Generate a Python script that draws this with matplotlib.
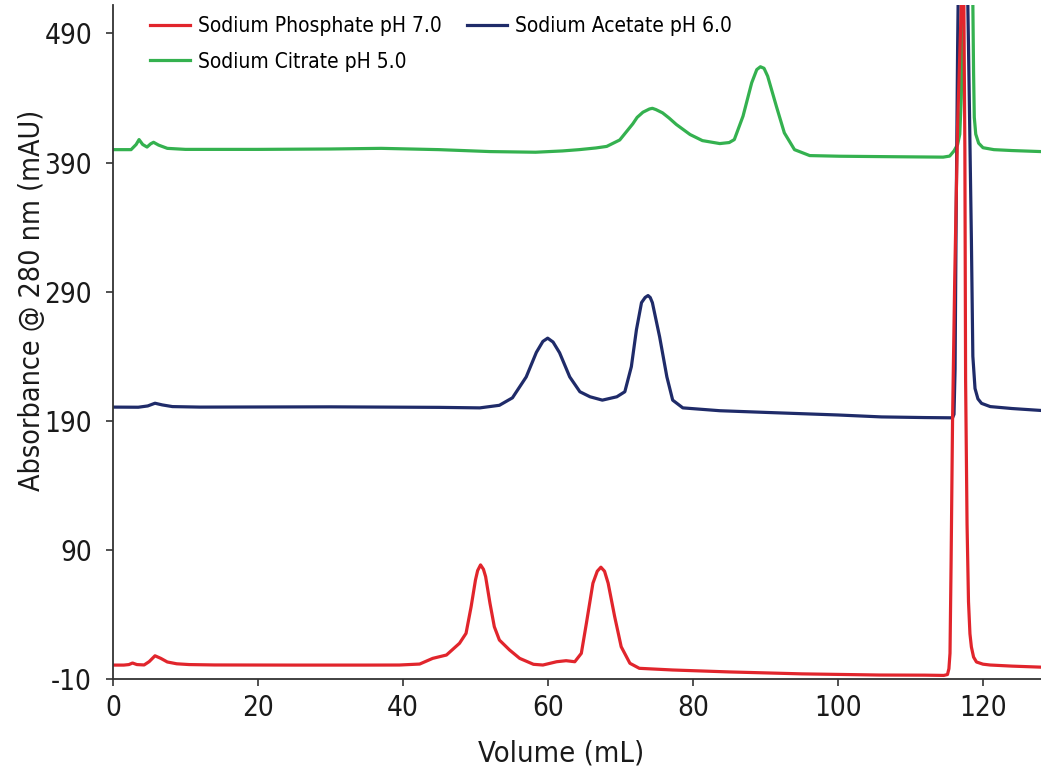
import matplotlib.pyplot as plt

# -------------------------------
# Chromatogram data
# -------------------------------
phosphate_x = [0, 1.5, 2.2, 2.7, 3.3, 4.3, 5.0, 5.8, 6.6, 7.5, 8.8, 10.5, 14, 25, 35,
               39.5, 42.3, 44.1, 46.0, 47.8, 48.7, 49.4, 50.0, 50.3, 50.7, 51.1, 51.4,
               52.0, 52.6, 53.3, 54.7, 56.1, 58.0, 59.3, 61.2, 62.5, 63.7, 64.6, 65.3,
               66.2, 66.8, 67.3, 67.8, 68.3, 69.2, 70.1, 71.3, 72.6, 77.2, 85, 95,
               105.7, 112, 114.6, 115.1, 115.3, 115.45, 115.6, 115.8, 116.1, 116.5,
               117.0, 117.3, 117.5, 117.6, 117.8, 118.0, 118.2, 118.4, 118.7, 119.1,
               120, 121, 124, 128]
phosphate_y = [0.8, 0.8, 1.2, 2.4, 1.2, 0.9, 3.5, 8.0, 6.0, 3.2, 1.8, 1.2, 0.9, 0.8, 0.8,
               0.85, 1.6, 6.0, 8.6, 17.7, 25.4, 46.0, 66.7, 74.0, 78.4, 75.0, 69.3,
               48.7, 30.5, 20.2, 12.5, 6.0, 1.4, 0.85, 3.4, 4.2, 3.4, 9.9, 33.2,
               64.2, 73.5, 76.6, 73.5, 64.2, 38.3, 15.0, 2.2, -1.7, -3.0, -4.5, -6.0,
               -6.9, -7.0, -7.2, -6.5, -2, 10, 80, 190, 300, 420,
               510, 560, 400, 222, 110, 50, 25, 14.8, 7, 3.2,
               1.5, 0.85, 0.0, -0.8]

acetate_x = [0, 3.5, 4.8, 5.8, 6.8, 8.2, 12, 30, 45, 50.6, 53.3, 55.1, 57.0, 58.4,
             59.3, 59.96, 60.7, 61.6, 63.0, 64.4, 65.8, 67.5, 69.5, 70.6, 71.5, 72.2,
             72.9, 73.4, 73.8, 74.1, 74.4, 75.4, 76.4, 77.2, 78.6, 83.7, 90, 100,
             106, 112, 115.8, 116.0, 116.15, 116.3, 116.5, 116.8, 117.2, 117.6, 118.0,
             118.4, 118.6, 118.9, 119.3, 119.8, 121, 124, 128]
acetate_y = [200.6, 200.5, 201.5, 203.6, 202.3, 201.0, 200.6, 200.8, 200.4, 200.0, 202.0,
             207.8, 224.0, 243.0, 251.5, 254.0, 251.0, 242.7, 224.0, 212.5, 208.6, 206.0,
             208.6, 212.5, 231.9, 260.5, 281.5, 285.5, 287.0, 285.5, 281.5, 255.0, 224.0,
             206.0, 200.0, 197.8, 196.5, 194.5, 193.0, 192.5, 192.3, 195, 230, 350, 480,
             620, 700, 620, 480, 330, 240, 215, 207, 203.5, 201, 199.5, 198]

citrate_x = [0, 2.5, 3.2, 3.6, 4.1, 4.7, 5.2, 5.6, 6.3, 7.5, 10, 20, 30, 37, 45, 52,
             58.3, 62, 64.3, 66.6, 68.1, 69.9, 71.7, 72.3, 73.1, 74.0, 74.4, 74.9, 75.8,
             76.7, 77.7, 79.6, 81.3, 83.7, 85.0, 85.7, 86.9, 88.1, 88.8, 89.3, 89.8,
             90.3, 91.5, 92.6, 94.0, 96.1, 100.2, 108, 114.5, 115.4, 116.0, 116.5, 116.8,
             117.0, 117.3, 117.8, 118.3, 118.55, 118.7, 118.8, 119.0, 119.4, 120.0, 121.5,
             124, 128]
citrate_y = [400, 400, 404, 407.8, 404, 402, 404.5, 405.7, 403.5, 401, 400.2, 400.2, 400.5,
             401, 400, 398.5, 398, 399, 400, 401.3, 402.5, 407.5, 420, 425, 429, 431.5,
             432, 431, 428.5, 424.5, 419.5, 411.7, 407, 404.7, 405.5, 407.8, 425.9, 451.8,
             462, 464.2, 463, 456.9, 433.6, 413, 400, 395.4, 394.9, 394.5, 394.2, 395,
             399, 404, 412, 440, 520, 620, 600, 540, 460, 425, 412, 405, 401.5, 400,
             399.3, 398.5]

labels = ["Sodium Phosphate pH 7.0", "Sodium Acetate pH 6.0", "Sodium Citrate pH 5.0"]
colors = ["#E1252C", "#1F2B69", "#34B14F"]

y_ticks = [-10, 90, 190, 290, 390, 490]
x_ticks = [0, 20, 40, 60, 80, 100, 120]

# -------------------------------
# Figure
# -------------------------------
plt.rcParams["font.family"] = ["DejaVu Sans"]
plt.rcParams["font.stretch"] = "condensed"
plt.rcParams["axes.unicode_minus"] = False

fig = plt.figure(figsize=(10.41, 7.74), dpi=100)
ax = fig.add_axes([0.1085, 0.1227, 0.8915, 0.8708])

lw = 2.3
l_cit, = ax.plot(citrate_x, citrate_y, color=colors[2], lw=lw, label=labels[2])
l_ace, = ax.plot(acetate_x, acetate_y, color=colors[1], lw=lw, label=labels[1])
l_pho, = ax.plot(phosphate_x, phosphate_y, color=colors[0], lw=lw, label=labels[0])

ax.set_xlim(0, 128)
ax.set_ylim(-10, 512)
ax.set_xticks(x_ticks)
ax.set_yticks(y_ticks)

for side in ["top", "right"]:
    ax.spines[side].set_visible(False)
for side in ["left", "bottom"]:
    ax.spines[side].set_color("#333333")
    ax.spines[side].set_linewidth(1.3)

ax.tick_params(axis="both", direction="out", length=5, width=1.2,
               colors="#333333", labelcolor="#1a1a1a", labelsize=20)
ax.tick_params(axis="y", pad=10)
ax.tick_params(axis="x", pad=6)

ax.set_xlabel("Volume (mL)", fontsize=21, color="#1a1a1a")
ax.set_ylabel("Absorbance @ 280 nm (mAU)", fontsize=20.5, color="#1a1a1a")
ax.xaxis.set_label_coords(0.483, -0.09)
ax.yaxis.set_label_coords(-0.072, 0.562)

# legend rows: phosphate + acetate on top, citrate below
ax.legend([l_pho, l_cit, l_ace], [labels[0], labels[2], labels[1]],
          ncol=2, loc="upper left", bbox_to_anchor=(0.038, 0.987),
          frameon=False, fontsize=15, handlelength=1.9, handletextpad=0.4,
          columnspacing=1.2, labelspacing=0.75, borderpad=0.1, borderaxespad=0)

fig.savefig("out.png", dpi=100)
